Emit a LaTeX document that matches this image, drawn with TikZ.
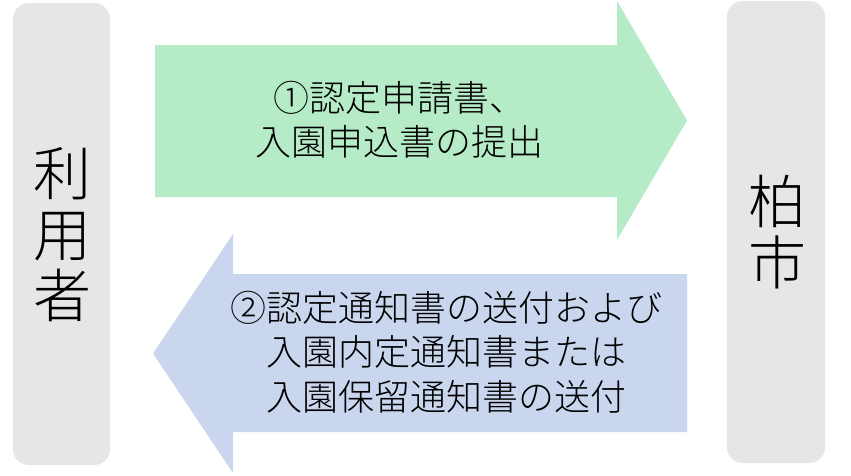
\documentclass[tikz,border=0pt]{standalone}
\usepackage{fontspec}
\setmainfont{Noto Sans CJK JP Light}
\definecolor{boxgray}{HTML}{E6E6E6}
\definecolor{arrgreen}{HTML}{B5EBC6}
\definecolor{arrblue}{HTML}{C9D6EE}
\begin{document}
\begin{tikzpicture}[x=1pt,y=-1pt,
  sidebox/.style={fill=boxgray, draw=none, rounded corners=16pt, inner sep=0pt},
  bigtext/.style={font=\fontsize{58}{61}\selectfont, align=center, inner sep=0pt},
  arrtext/.style={font=\fontsize{36}{44.5}\selectfont, align=center, inner sep=0pt},
  arrowshape/.style={draw=none}]
\useasboundingbox (0,0) rectangle (851,475);
\fill[white] (0,0) rectangle (851,475);
% side boxes
\node[sidebox, minimum width=97pt, minimum height=462pt] (user) at (61.5,234) {};
\node[bigtext] (userlabel) at (62,235) {利\\用\\者};
\node[sidebox, minimum width=98pt, minimum height=462pt] (city) at (776,232) {};
\node[bigtext] (citylabel) at (777.5,232.5) {柏\\市};
% green arrow (to the right)
\fill[arrgreen, arrowshape] (155,45) -- (617,45) -- (617,1) -- (687,120.5) -- (617,240) -- (617,197) -- (155,197) -- cycle;
\node[arrtext] (apply) at (399,119.5) {①認定申請書、\\入園申込書の提出};
% blue arrow (to the left)
\fill[arrblue, arrowshape] (687,274) -- (233,274) -- (233,234) -- (153,353.5) -- (233,473) -- (233,432) -- (687,432) -- cycle;
\node[arrtext] (notice) at (446,352) {②認定通知書の送付および\\入園内定通知書または\\入園保留通知書の送付};
\end{tikzpicture}
\end{document}
